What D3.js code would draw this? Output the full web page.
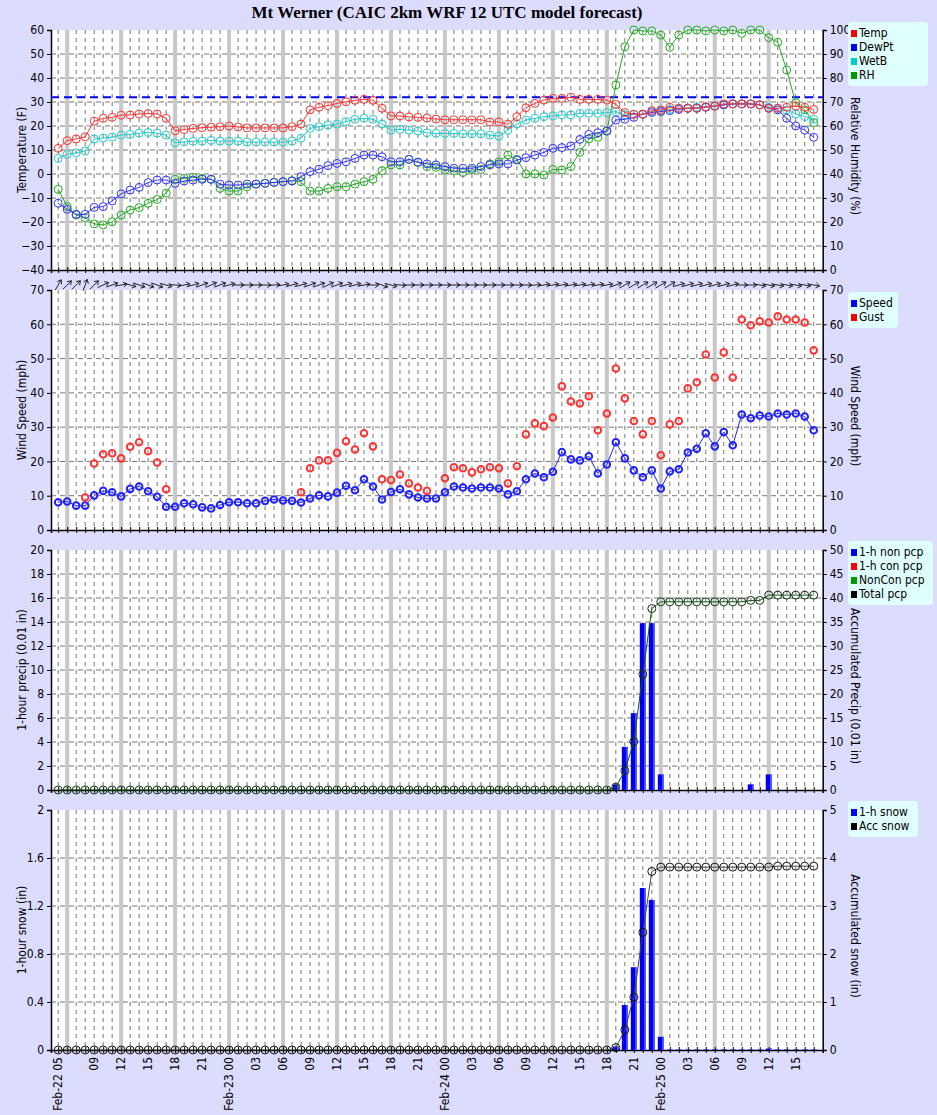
<!DOCTYPE html>
<html><head><meta charset="utf-8">
<script src="https://cdn.jsdelivr.net/npm/d3@7"></script>
<style>body{margin:0;background:#dcdcff;}svg{display:block;font-family:"DejaVu Sans",sans-serif;}</style>
</head><body><svg id="c" width="937" height="1115"></svg>
<script>
const title = "Mt Werner (CAIC 2km WRF 12 UTC model forecast)";
const startHour = 5; // Feb-22 05
const days = ["Feb-22","Feb-23","Feb-24","Feb-25"];
const temp = [10.7,13.9,14.6,15.5,22,23.2,23.6,24.5,24.6,25,25.2,25,23.2,18,18.5,19,19.3,19.5,19.7,20,19.6,19.2,19.2,19.2,19.2,19.2,19.7,
 20.8,26.7,27.8,28.5,29.4,30.1,30.7,31.1,30.7,27.4,24.2,24.2,23.8,23.6,23.3,22.9,22.6,22.6,22.6,22.6,22.6,21.7,21.7,20.7,23.9,27.6,29.4,30.8,31.5,31.5,32,31.1,31.1,31.1,30.8,29,25.6,24.9,24.9,26.4,26.7,27.8,27.4,27.4,27.4,28,28.3,29.2,29.2,29.2,29.2,28.8,27.4,27.4,27.8,28.3,27.8,26.9];
const dewpt = [-12.2,-14.7,-16.8,-16.8,-13.9,-13.6,-11.2,-8.3,-6.7,-5.6,-3.6,-2.5,-2.5,-3.9,-2.9,-2.5,-2.2,-2.2,-4.2,-4.6,-4.6,-4.2,-4.2,-3.9,-3.5,-3.2,-2.9,
 -1.1,1,2,3.5,4.4,5.1,6.5,7.9,7.9,7.2,5.1,5.1,6.1,4.9,4.2,3.8,3.1,2.4,2.4,2.4,3.1,3.8,4.2,4.2,5.8,6.8,7.9,9,10.7,11,11.7,14.4,16.5,17.2,17.9,22.5,22.8,23.6,24.9,25.6,26,26.4,26.9,27.4,27.4,27.8,28.3,28.8,29.2,29.2,29.2,28.8,27.4,26.7,23.2,20,18.3,15.3];
const wetb = [6.5,8.2,8.8,9.6,14.6,15,15.4,16.2,16.5,17,17.3,17,16.2,13,13.4,13.6,13.7,14,13.7,13.7,13.7,13.3,13.3,13.3,13.3,13.3,13.7,14.9,19,19.7,
 20.4,20.8,21.8,22.8,23.2,22.8,20.8,18.3,18.6,18.3,17.9,17.2,16.9,16.9,16.9,16.7,16.7,16.7,16.2,15.8,18.3,20.8,22.5,23.2,23.9,24.2,24.6,24.6,25.3,25.3,25.3,
 25.6,26,24.6,24.9,24.9,26,26.4,26.9,27.4,27.4,27.8,28,28.3,28.8,29.2,29.2,29.2,28.8,27.8,27.4,26.7,25,23.9,22.8];
const rh = [33.6,26.4,22.9,21.8,19.2,18.8,20.1,22.9,25,26,27.8,29.4,32,37.8,38.2,38.6,38.2,37.8,34,32.9,32.9,34.7,35.8,36.1,36.5,36.8,37.2,
 36.8,32.9,32.9,34,34.7,34.7,35.8,36.8,37.8,41.4,43.8,43.8,46.1,44.9,43.1,42.8,41.7,41.4,40.6,41.7,41.9,44.2,45.1,47.9,46.1,40,40,39.6,41.9,41.7,43.1,49,54.6,55.3,57.9,77.1,
 93,100,99.6,99.6,97.9,92.8,97.9,100,100,99.6,100,99.6,100,98.6,100,100,96.8,94.9,83.3,69.7,66.7,61.4];
const speed = [8.1,8.3,7.1,7.1,10.1,11.4,11,9.8,12,12.7,11.3,9.7,6.8,6.8,7.8,7.5,6.6,6.3,7.3,8.1,8.1,7.8,7.8,8.5,8.9,8.6,8.5,8,9.2,10.1,9.8,10.9,12.9,11.6,14.8,12.7,8.9,11.1,11.9,10.4,9.5,9.2,9.2,
 11,12.7,12.4,12.1,12.4,12.4,12.1,10.4,11.3,14.8,16.5,15.4,17,22.7,20.6,20.3,21.5,16.5,19.1,25.6,20.9,17.4,15.4,17.4,12.1,17.1,17.7,22.6,23.7,28.2,24.4,28.6,24.7,33.7,32.6,33.4,33.1,34,33.7,34,33.1,29.1];
const gust = [null,null,null,9.5,19.4,22.1,22.4,20.9,24.3,25.6,23,19.7,11.9,null,null,null,null,null,null,null,null,null,null,null,null,null,null,
 11,18,20.3,20.3,22.5,25.9,23.5,28.2,24.4,14.8,14.6,16.2,13.6,12.4,11.4,null,
 15.1,18.3,18,16.8,17.7,18.3,18,13.6,18.6,27.9,31.1,30.3,32.8,41.9,37.5,36.9,39,29.1,34,47.1,38.4,31.8,27.9,31.8,21.8,30.8,31.8,41.3,43.1,51.2,44.5,51.8,44.5,61.4,59.7,60.9,60.5,62.3,61.4,61.4,60.5,52.4];
const windDir = [60,45,45,70,45,25,20,10,-15,-20,-20,-20,-15,-5,10,15,20,25,20,15,0,0,0,0,5,10,15,15,20,20,25,20,15,15,10,0,-20,-15,-5,0,0,0,0,
 0,0,0,0,0,0,0,0,0,0,5,10,10,10,10,10,10,10,10,20,30,30,30,30,30,30,15,15,15,15,15,15,15,0,0,-10,-10,-10,-10,-10,-10,-10];
const pcpHour = {62:0.47,63:3.6,64:6.4,65:13.9,66:13.9,67:1.3,77:0.47,79:1.3};
const pcpAccChange = [[62,0.6],[63,4],[64,10.1],[65,24.1],[66,37.8],[67,39.2],[77,39.5],[79,40.6]];
const snowHour = {62:0.03,63:0.375,64:0.69,65:1.35,66:1.25,67:0.11,79:0.012};
const snowAccChange = [[62,0.05],[63,0.42],[64,1.1],[65,2.45],[66,3.72],[67,3.81],[80,3.83]];

const N = temp.length;
const idx = d3.range(N);
function stepSeries(changes){let v=0,k=0;return idx.map(i=>{while(k<changes.length&&changes[k][0]<=i){v=changes[k][1];k++;}return v;});}
const pcp1 = idx.map(i=>pcpHour[i]||0), pcpAcc = stepSeries(pcpAccChange);
const snow1 = idx.map(i=>snowHour[i]!==undefined?snowHour[i]:(i>67?0.004:0)), snowAcc = stepSeries(snowAccChange);

const svg = d3.select("#c");
const L=51, R=822.7;
const FONT="DejaVu Sans Condensed, DejaVu Sans";
const x = d3.scaleLinear().domain([-0.8,85]).range([L,R]);
const panels = [{t:30,b:270,ro:6},{t:290,b:530,ro:6},{t:550,b:790,ro:16},{t:810,b:1050,ro:6}];

svg.append("text").attr("x",447).attr("y",18).attr("text-anchor","middle")
  .attr("font-family","Liberation Serif, serif").attr("font-weight","bold").attr("font-size",17).text(title);

function frame(p, yl, yr, lt, rt, lfmt, rfmt, llab, rlab){
  const g = svg.append("g");
  g.append("rect").attr("x",L).attr("y",p.t).attr("width",R-L).attr("height",p.b-p.t).attr("fill","#fff");
  idx.forEach(i=>{
    const hr=(startHour+i)%24;
    if(hr%6===0) g.append("line").attr("x1",x(i)).attr("x2",x(i)).attr("y1",p.t).attr("y2",p.b).attr("stroke","#c8c8c8").attr("stroke-width",4);
    else g.append("line").attr("x1",x(i)).attr("x2",x(i)).attr("y1",p.t).attr("y2",p.b).attr("stroke","#777").attr("stroke-width",1).attr("stroke-dasharray","4,4");
  });
  lt.forEach(v=>{ if(v>yl.domain()[0]&&v<yl.domain()[1]) g.append("line").attr("x1",L).attr("x2",R).attr("y1",yl(v)).attr("y2",yl(v)).attr("stroke","#777").attr("stroke-dasharray","5,4");});
  const la = g.append("g").attr("transform",`translate(${L},0)`).call(d3.axisLeft(yl).tickValues(lt).tickFormat(lfmt).tickSizeOuter(0).tickSize(4));
  const ra = g.append("g").attr("transform",`translate(${R},0)`).call(d3.axisRight(yr).tickValues(rt).tickFormat(rfmt).tickSizeOuter(0).tickSize(4));
  [la,ra].forEach(a=>{a.selectAll("text").attr("font-size",12).attr("fill","#000").attr("font-family",FONT);a.select(".domain").attr("stroke","#000").attr("stroke-width",1.5);});
  const bt = g.append("g").attr("transform",`translate(0,${p.b})`).call(d3.axisBottom(x).tickValues(idx).tickFormat("").tickSizeOuter(0).tickSize(3));
  bt.select(".domain").attr("stroke","#000").attr("stroke-width",1.5);
  g.append("g").attr("transform",`translate(0,${p.b})`).call(d3.axisTop(x).tickValues(idx).tickFormat("").tickSize(3)).select(".domain").remove();
  const cy=(p.t+p.b)/2;
  g.append("text").attr("transform",`translate(26,${cy}) rotate(-90)`).attr("text-anchor","middle").attr("font-size",12).attr("font-family",FONT).text(llab);
  g.append("text").attr("transform",`translate(851,${cy+p.ro}) rotate(90)`).attr("text-anchor","middle").attr("font-size",12).attr("font-family",FONT).text(rlab);
  return g;
}
function legend(x0,y0,w,items){
  const g=svg.append("g");
  g.append("rect").attr("x",x0).attr("y",y0).attr("width",w).attr("height",items.length*14+8).attr("rx",4).attr("fill","#e0ffff");
  items.forEach((it,k)=>{
    g.append("rect").attr("x",x0+3).attr("y",y0+8+k*14).attr("width",6).attr("height",7).attr("fill",it[1]);
    g.append("text").attr("x",x0+11).attr("y",y0+15+k*14).attr("font-size",12).attr("font-family",FONT).text(it[0]);
  });
}
function lineSeries(g,data,y,color,r,sw,withLine){
  const valid = idx.filter(i=>data[i]!==null);
  if(withLine) g.append("path").attr("d",d3.line().defined(i=>data[i]!==null).x(i=>x(i)).y(i=>y(data[i]))(idx)).attr("fill","none").attr("stroke",color).attr("stroke-width",1);
  g.selectAll(null).data(valid).enter().append("circle").attr("cx",i=>x(i)).attr("cy",i=>y(data[i])).attr("r",r).attr("fill","none").attr("stroke",color).attr("stroke-width",sw);
}

// Panel 1
{ const p=panels[0];
  const yl=d3.scaleLinear().domain([-40,60]).range([p.b,p.t]);
  const yr=d3.scaleLinear().domain([0,100]).range([p.b,p.t]);
  const g=frame(p,yl,yr,d3.range(-40,61,10),d3.range(0,101,10),d3.format("d"),d3.format("d"),"Temperature (F)","Relative Humidity (%)");
  g.append("line").attr("x1",L).attr("x2",R).attr("y1",yl(32)).attr("y2",yl(32)).attr("stroke","#0000ff").attr("stroke-width",2).attr("stroke-dasharray","8,5");
  lineSeries(g,rh,yr,"#22aa22",4,1,true);
  lineSeries(g,wetb,yl,"#22cccc",4,1,true);
  lineSeries(g,dewpt,yl,"#3333ff",4,1,true);
  lineSeries(g,temp,yl,"#ff3333",4,1,true);
  legend(848,22,80,[["Temp","#ff0000"],["DewPt","#0000ff"],["WetB","#00cccc"],["RH","#009900"]]);
}
// Panel 2
{ const p=panels[1];
  const yl=d3.scaleLinear().domain([0,70]).range([p.b,p.t]);
  const g=frame(p,yl,yl,d3.range(0,71,10),d3.range(0,71,10),d3.format("d"),d3.format("d"),"Wind Speed (mph)","Wind Speed (mph)");
  lineSeries(g,speed,yl,"#2222ff",3.3,2,true);
  lineSeries(g,gust,yl,"#ff3333",3.3,2,false);
  idx.forEach(i=>{
    const a=windDir[i]*Math.PI/180, len=12, cx=x(i), cy=p.t-5;
    const dx=Math.cos(a)*len/2, dy=-Math.sin(a)*len/2;
    const x1=cx-dx,y1=cy-dy,x2=cx+dx,y2=cy+dy;
    g.append("line").attr("x1",x1).attr("y1",y1).attr("x2",x2).attr("y2",y2).attr("stroke","#222").attr("stroke-width",1);
    const h=4.5, b1=Math.PI+a+0.6, b2=Math.PI+a-0.6;
    g.append("path").attr("d",`M${x2+Math.cos(b1)*h},${y2-Math.sin(b1)*h}L${x2},${y2}L${x2+Math.cos(b2)*h},${y2-Math.sin(b2)*h}`).attr("fill","none").attr("stroke","#222");
  });
  legend(848,292,50,[["Speed","#0000ff"],["Gust","#ff0000"]]);
}
function barSeries(g,data,y,p){
  const w=6;
  idx.filter(i=>data[i]>0).forEach(i=>{
    g.append("rect").attr("x",x(i)-w/2).attr("y",y(data[i])).attr("width",w).attr("height",p.b-y(data[i])).attr("fill","#0000ee");
    g.append("rect").attr("x",x(i)+w/2-1.5).attr("y",y(data[i])).attr("width",1.5).attr("height",p.b-y(data[i])).attr("fill","#6666ff");
  });
}
// Panel 3
{ const p=panels[2];
  const yl=d3.scaleLinear().domain([0,20]).range([p.b,p.t]);
  const yr=d3.scaleLinear().domain([0,50]).range([p.b,p.t]);
  const g=frame(p,yl,yr,d3.range(0,21,2),d3.range(0,51,5),d3.format("d"),d3.format("d"),"1-hour precip (0.01 in)","Accumulated Precip (0.01 in)");
  barSeries(g,pcp1,yl,p);
  g.append("path").attr("d",d3.line().x(i=>x(i)).y(i=>yr(pcpAcc[i]))(idx)).attr("fill","none").attr("stroke","#115511").attr("stroke-width",1);
  g.selectAll(null).data(idx).enter().append("circle").attr("cx",i=>x(i)).attr("cy",i=>yr(pcpAcc[i])).attr("r",4).attr("fill","none").attr("stroke","#113311");
  legend(848,541,85,[["1-h non pcp","#0000ff"],["1-h con pcp","#ff0000"],["NonCon pcp","#009900"],["Total pcp","#000"]]);
}
// Panel 4
{ const p=panels[3];
  const yl=d3.scaleLinear().domain([0,2]).range([p.b,p.t]);
  const yr=d3.scaleLinear().domain([0,5]).range([p.b,p.t]);
  const g=frame(p,yl,yr,[0,0.4,0.8,1.2,1.6,2],d3.range(0,6,1),d=>String(d),d3.format("d"),"1-hour snow (in)","Accumulated snow (in)");
  barSeries(g,snow1,yl,p);
  g.append("path").attr("d",d3.line().x(i=>x(i)).y(i=>yr(snowAcc[i]))(idx)).attr("fill","none").attr("stroke","#444").attr("stroke-width",1);
  g.selectAll(null).data(idx).enter().append("circle").attr("cx",i=>x(i)).attr("cy",i=>yr(snowAcc[i])).attr("r",4).attr("fill","none").attr("stroke","#111");
  legend(848,801,70,[["1-h snow","#0000ff"],["Acc snow","#000"]]);
  const lab = idx.filter(i=>i===0||((startHour+i)%3===0 && i>2)).map(i=>{
    const hr=(startHour+i)%24, day=Math.floor((startHour+i)/24);
    const s=String(hr).padStart(2,"0");
    return {i, t:(i===0||hr===0)?days[day]+" "+s:s};
  });
  svg.selectAll(null).data(lab).enter().append("text")
    .attr("transform",d=>`translate(${x(d.i)+4},${p.b+7}) rotate(-90)`).attr("text-anchor","end")
    .attr("font-size",12).attr("font-family",FONT).text(d=>d.t);
}
</script></body></html>
